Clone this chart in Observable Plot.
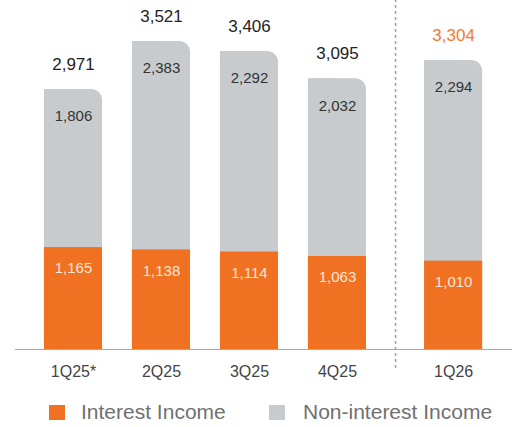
<!DOCTYPE html>
<html>
<head>
<meta charset="utf-8">
<script src="https://cdn.jsdelivr.net/npm/d3@7"></script>
<script src="https://cdn.jsdelivr.net/npm/@observablehq/plot@0.6"></script>
<style>
  html, body { margin: 0; padding: 0; background: #fff; }
  #wrap { position: relative; width: 512px; height: 427px; font-family: "Liberation Sans", Arial, sans-serif; }
  .sw { position: absolute; width: 16px; height: 15px; top: 405px; }
  .lt { position: absolute; top: 399px; font-size: 21px; line-height: 26px; color: #707070; white-space: nowrap; }
</style>
</head>
<body>
<div id="wrap">
  <div id="chart"></div>
  <div class="sw" style="left:49px;background:#F07122"></div>
  <div class="lt" style="left:81px">Interest Income</div>
  <div class="sw" style="left:269px;background:#C7CBCE"></div>
  <div class="lt" style="left:303px">Non-interest Income</div>
</div>
<script>
const categories = ["1Q25*", "2Q25", "3Q25", "4Q25", "1Q26"];
const interestIncome = [1165, 1138, 1114, 1063, 1010];
const nonInterestIncome = [1806, 2383, 2292, 2032, 2294];
const totals = [2971, 3521, 3406, 3095, 3304];

const ORANGE = "#F07122";
const GRAY = "#C7CBCE";
const half = 0.33;
const gapAfter = 3; // separator between 4Q25 and 1Q26

const data = categories.map((c, i) => ({
  cat: c,
  interest: interestIncome[i],
  non: nonInterestIncome[i],
  total: totals[i],
  pos: i + (i > gapAfter ? 0.32 : 0),
  latest: i === categories.length - 1
}));

const chart = Plot.plot({
  width: 512,
  height: 390,
  marginTop: 0,
  marginLeft: 0,
  marginRight: 0,
  marginBottom: 41,
  style: { fontFamily: "Liberation Sans, Arial, sans-serif", background: "transparent" },
  x: { type: "linear", domain: [-0.8295, 4.989], axis: null },
  y: { domain: [0, 3989], axis: null },
  marks: [
    Plot.rectY(data, { x1: d => d.pos - half, x2: d => d.pos + half, y1: 0, y2: "total", fill: GRAY, rx: 11 }),
    Plot.rectY(data, { x1: d => d.pos - half, x2: d => d.pos, y1: 0, y2: "total", fill: GRAY }),
    Plot.rectY(data, { x1: d => d.pos - half, x2: d => d.pos + half, y1: 0, y2: "interest", fill: ORANGE }),
    Plot.ruleY([0], { x1: -0.66, x2: 4.989, stroke: "#a9a9a9", strokeWidth: 1.2 }),
    Plot.ruleX([(gapAfter + gapAfter + 1.32) / 2], { y1: -217, y2: 3989, stroke: "#a0a0a0", strokeWidth: 1.5, strokeDasharray: "3,3" }),
    Plot.text(data, { x: "pos", y: "total", dy: -25, text: d => d3.format(",")(d.total), fontSize: 17, fill: d => d.latest ? "#F47B2A" : "#222" }),
    Plot.text(data, { x: "pos", y: "total", dy: 27, text: d => d3.format(",")(d.non), fontSize: 15, fill: "#333" }),
    Plot.text(data, { x: "pos", y: "interest", dy: 21, text: d => d3.format(",")(d.interest), fontSize: 15, fill: "#fde6d6" }),
    Plot.text(data, { x: "pos", y: 0, dy: 22, text: "cat", fontSize: 16, fill: "#444" })
  ]
});
document.getElementById("chart").appendChild(chart);
</script>
</body>
</html>
